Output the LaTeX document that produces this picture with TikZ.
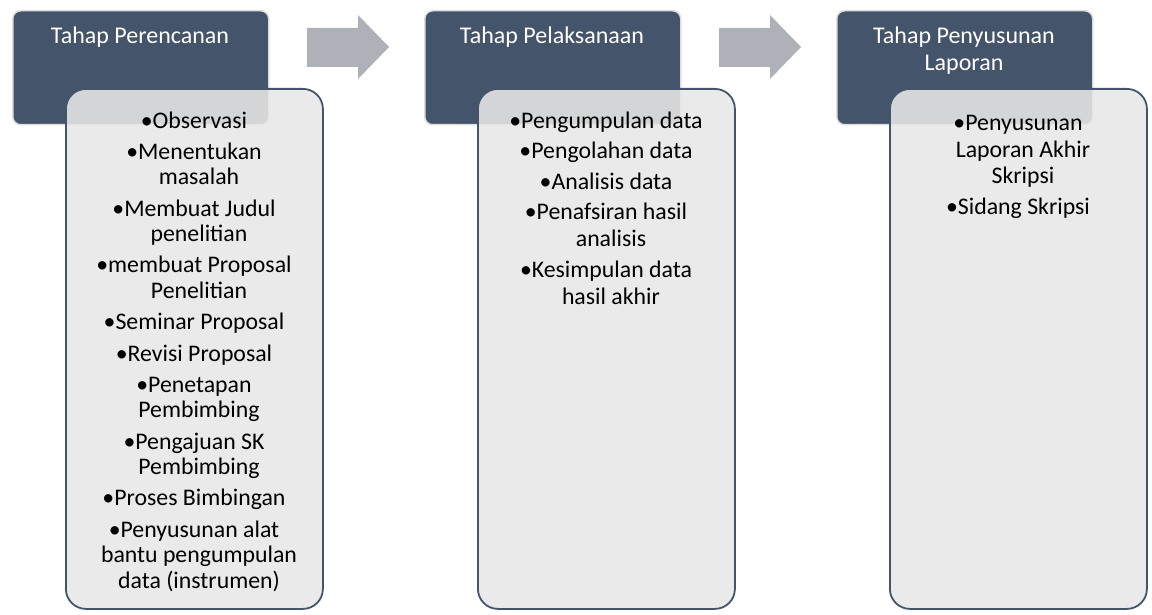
\documentclass[tikz,border=0pt]{standalone}
\usepackage{fontspec}
\setmainfont{Carlito}
\definecolor{hdr}{RGB}{68,84,106}
\definecolor{bodyfill}{RGB}{231,231,231}
\definecolor{arrowc}{RGB}{174,177,184}
\definecolor{halo}{RGB}{222,222,222}
\begin{document}
\begin{tikzpicture}[x=1pt,y=-1pt,
  hdrbox/.style={draw=halo, line width=1.5pt, fill=hdr, rounded corners=8pt,
    minimum width=256pt, minimum height=114pt, anchor=north west, inner sep=0pt},
  bodybox/.style={draw=hdr, line width=1.8pt, fill=bodyfill, fill opacity=0.88,
    draw opacity=1, rounded corners=20pt,
    minimum width=257pt, minimum height=520pt, anchor=north west, inner sep=0pt},
  titletext/.style={text=white, align=center, anchor=base, inner sep=0pt,
    font=\fontsize{24}{27}\selectfont},
  bodytextA/.style={text=black, align=center, anchor=base, inner sep=0pt,
    font=\fontsize{23.8}{25.5}\selectfont},
  bodytextB/.style={text=black, align=center, anchor=base, inner sep=0pt,
    font=\fontsize{23.8}{27}\selectfont},
  flowarrow/.style={fill=arrowc, draw=none}
]
\useasboundingbox (0,0) rectangle (1152,615);

% column 1  (anchor=base is the baseline of the LAST line)
\node[hdrbox] (h1) at (12,10) {};
\node[titletext] (t1) at (140,44) {Tahap Perencanan};
\node[bodybox] (b1) at (65,88) {};
\node[bodytextA] (l1) at (194,588.2) {•Observasi\\[5.8pt]
•Menentukan\\ \hspace*{10pt}masalah\\[5.8pt]
•Membuat Judul\\ \hspace*{10pt}penelitian\\[5.8pt]
•membuat Proposal\\ \hspace*{10pt}Penelitian\\[5.8pt]
•Seminar Proposal\\[5.8pt]
•Revisi Proposal\\[5.8pt]
•Penetapan\\ \hspace*{10pt}Pembimbing\\[5.8pt]
•Pengajuan SK\\ \hspace*{10pt}Pembimbing\\[5.8pt]
•Proses Bimbingan\\[5.8pt]
•Penyusunan alat\\ \hspace*{10pt}bantu pengumpulan\\ \hspace*{10pt}data (instrumen)};

% column 2
\node[hdrbox] (h2) at (424,10) {};
\node[titletext] (t2) at (552,44) {Tahap Pelaksanaan};
\node[bodybox] (b2) at (477,88) {};
\node[bodytextB] (l2) at (606,304) {•Pengumpulan data\\[3.5pt]
•Pengolahan data\\[3.5pt]
•Analisis data\\[3.5pt]
•Penafsiran hasil\\ \hspace*{10pt}analisis\\[3.5pt]
•Kesimpulan data\\ \hspace*{10pt}hasil akhir};

% column 3
\node[hdrbox] (h3) at (836,10) {};
\node[titletext] (t3) at (964,71) {Tahap Penyusunan\\Laporan};
\node[bodybox] (b3) at (889,88) {};
\node[bodytextB] (l3) at (1018,214.5) {•Penyusunan\\ \hspace*{10pt}Laporan Akhir\\ \hspace*{10pt}Skripsi\\[3.5pt]
•Sidang Skripsi};

% arrows
\fill[flowarrow] (307,28) -- (358,28) -- (358,15) -- (389,47) -- (358,79) -- (358,67) -- (307,67) -- cycle;
\fill[flowarrow] (719,28) -- (770,28) -- (770,15) -- (801,47) -- (770,79) -- (770,67) -- (719,67) -- cycle;
\end{tikzpicture}
\end{document}
